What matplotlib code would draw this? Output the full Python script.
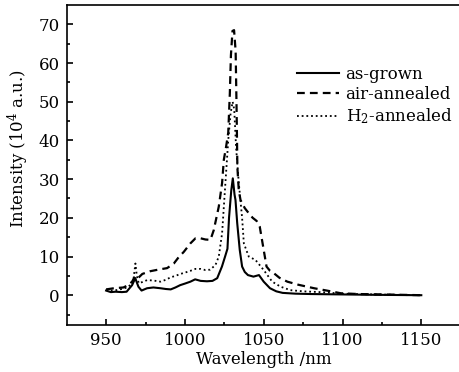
import matplotlib
matplotlib.use("Agg")
import matplotlib.pyplot as plt
from matplotlib.ticker import FixedLocator

# ── data ───────────────────────────────────────────────────────
wl_grown = [950, 953, 956, 960, 963, 966.5, 968.5, 970.5, 972.5, 976, 980,
            984.5, 988, 991, 994, 997, 1000, 1003.5, 1006.5, 1010, 1014,
            1017.5, 1020.5, 1023.5, 1025.5, 1027, 1028, 1029.4, 1030.4,
            1031.5, 1032.1, 1033.2, 1034.8, 1036.3, 1038, 1040, 1043.5,
            1047, 1050, 1054, 1058, 1062, 1070, 1080, 1100, 1120, 1150]
int_grown = [1.2, 0.8, 0.9, 0.8, 0.9, 2.6, 4.4, 2.2, 1.2, 1.8, 2.0,
             1.8, 1.6, 1.5, 2.0, 2.6, 3.0, 3.5, 4.1, 3.7, 3.6,
             3.7, 4.4, 7.4, 10.0, 12.0, 20.0, 27.0, 30.2,
             26.0, 24.6, 18.6, 11.7, 7.4, 6.0, 5.2, 4.8,
             5.2, 3.5, 1.8, 1.0, 0.6, 0.4, 0.3, 0.2, 0.1, 0.0]

wl_air = [950, 955, 961, 964, 966.5, 968.5, 970.5, 973, 978, 983, 988.7,
          993, 996, 999.3, 1003.5, 1006.7, 1010, 1013, 1016.2, 1018.3,
          1021.5, 1023.6, 1024.7, 1026, 1027.5, 1028.5, 1029.2, 1030.2,
          1031.2, 1032.2, 1032.8, 1033.3, 1034.2, 1035.3, 1038, 1040.5,
          1043, 1045.5, 1047.5, 1050, 1051.8, 1054, 1056.4, 1060, 1065,
          1072, 1082, 1090, 1099, 1110, 1125, 1150]
int_air = [1.5, 1.8, 2.0, 2.6, 3.5, 5.0, 4.5, 5.5, 6.2, 6.6, 7.0,
           8.2, 9.8, 11.2, 13.4, 14.7, 14.7, 14.4, 14.3, 16.8,
           22.9, 29.0, 35.0, 38.0, 42.0, 52.0, 62.0, 68.3,
           68.5, 63.0, 48.0, 33.0, 27.0, 24.6, 22.5, 21.2,
           20.0, 19.2, 17.7, 11.7, 7.4, 6.3, 5.7, 4.5, 3.5,
           2.7, 1.8, 1.2, 0.5, 0.3, 0.2, 0.0]

wl_h2 = [950, 955, 960, 963.3, 966, 967.5, 968.6, 969.5, 970.7, 973, 976,
         980, 984.5, 988, 990.8, 994, 997.2, 1000.5, 1003.5, 1006.7, 1010,
         1013, 1016, 1019.4, 1021.5, 1023.6, 1025.7, 1027.5, 1029, 1030.3,
         1031.3, 1032.5, 1034.2, 1036.3, 1037.4, 1040.5, 1044.8, 1050,
         1055.4, 1060.7, 1067, 1075, 1086, 1100, 1120, 1150]
int_h2 = [1.3, 1.2, 1.6, 2.0, 2.8, 4.5, 8.2, 5.0, 3.1, 3.4, 3.9,
          3.8, 3.5, 4.0, 4.6, 5.0, 5.5, 5.9, 6.3, 6.8, 6.8,
          6.5, 6.6, 7.8, 10.0, 16.0, 29.0, 40.0, 47.0, 50.0,
          48.0, 38.0, 29.0, 20.0, 13.4, 10.0, 9.1, 6.5,
          3.5, 2.2, 1.3, 1.0, 0.8, 0.4, 0.2, 0.0]

labels = ["as-grown", "air-annealed", r"H$_2$-annealed"]
x_major = [950, 1000, 1050, 1100, 1150]
x_minor = [975, 1025, 1075, 1125]
y_major = [0, 10, 20, 30, 40, 50, 60, 70]
y_minor = [-5, 5, 15, 25, 35, 45, 55, 65]

plt.rcParams["font.family"] = ["DejaVu Serif"]
plt.rcParams["mathtext.fontset"] = "dejavuserif"
plt.rcParams["font.size"] = 12

fig = plt.figure(figsize=(4.59, 3.72), dpi=100)
ax = fig.add_axes([66.7 / 459, 47 / 372, 394 / 459, 320 / 372])

ax.plot(wl_grown, int_grown, color="black", lw=1.5, ls="-", label=labels[0])
ax.plot(wl_air, int_air, color="black", lw=1.6, ls=(0, (3.5, 2.3)),
        label=labels[1])
ax.plot(wl_h2, int_h2, color="black", lw=1.3, ls=(0, (1, 1.6)),
        label=labels[2])

ax.set_xlim(925, 1175)
ax.set_ylim(-7.7, 75)
ax.xaxis.set_major_locator(FixedLocator(x_major))
ax.xaxis.set_minor_locator(FixedLocator(x_minor))
ax.yaxis.set_major_locator(FixedLocator(y_major))
ax.yaxis.set_minor_locator(FixedLocator(y_minor))
ax.tick_params(which="both", direction="in", width=1.2, top=False,
               right=False)
ax.tick_params(which="major", length=4, pad=5)
ax.tick_params(which="minor", length=2.5)
for s in ax.spines.values():
    s.set_linewidth(1.2)
ax.spines["right"].set_visible(False)

ax.set_xlabel("Wavelength /nm", labelpad=1.5)
ax.set_ylabel(r"Intensity (10$^4$ a.u.)")
ax.yaxis.set_label_coords(-0.09, 0.55)

ax.legend(loc="upper left", bbox_to_anchor=(0.585, 0.81), frameon=False,
          handlelength=2.5, handletextpad=0.4, labelspacing=0.2,
          borderpad=0, borderaxespad=0, fontsize=12)

fig.savefig("out.png", dpi=100)
